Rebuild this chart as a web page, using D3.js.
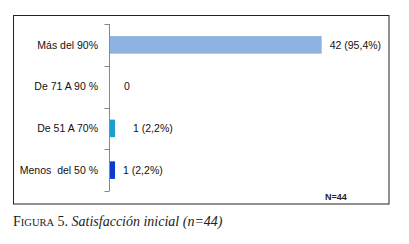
<!DOCTYPE html>
<html>
<head>
<meta charset="utf-8">
<script src="https://cdn.jsdelivr.net/npm/d3@7"></script>
<style>
  body { margin: 0; background: #fff; }
  .chart text { font-family: "Liberation Sans", Arial, sans-serif; white-space: pre; }
  .caption { font-family: "Liberation Serif", "Times New Roman", serif; }
</style>
</head>
<body>
<script>
// chart data
const categories = ["Más del 90%", "De 71 A 90 %", "De 51 A 70%", "Menos  del 50 %"];
const values = [42, 0, 1, 1];
const valueLabels = ["42 (95,4%)", "0", "1 (2,2%)", "1 (2,2%)"];
const barColors = ["#8db3e2", "#8db3e2", "#1a9fd0", "#0a3ad0"];
const labelOffsets = [8, 14, 18, 8];

const w = 409, h = 244;

const svg = d3.select("body").append("svg")
  .attr("width", w)
  .attr("height", h);

const chart = svg.append("g").attr("class", "chart");

// outer frame
chart.append("rect")
  .attr("x", 13.5).attr("y", 15.5)
  .attr("width", 375.5).attr("height", 188.5)
  .attr("fill", "none")
  .attr("stroke", "#222")
  .attr("stroke-width", 1);

const x = d3.scaleLinear().domain([0, 42]).range([110, 321.7]);
const y = d3.scaleBand().domain(categories).range([24, 191]).paddingInner(0.58).paddingOuter(0.29);

// bars
chart.selectAll("rect.bar")
  .data(values)
  .enter()
  .append("rect")
  .attr("class", "bar")
  .attr("x", x(0))
  .attr("y", (d, i) => y(categories[i]))
  .attr("width", d => x(d) - x(0))
  .attr("height", y.bandwidth())
  .attr("fill", (d, i) => barColors[i]);

// value labels
chart.selectAll("text.val")
  .data(values)
  .enter()
  .append("text")
  .attr("class", "val")
  .attr("x", (d, i) => x(d) + labelOffsets[i])
  .attr("y", (d, i) => y(categories[i]) + y.bandwidth() / 2)
  .attr("dy", "0.35em")
  .attr("font-size", 10.5)
  .attr("fill", "#111")
  .text((d, i) => valueLabels[i]);

// category axis
const yAxisScale = d3.scaleBand().domain(categories).range([24, 191]);
const axis = chart.append("g").attr("transform", "translate(109.5,0)");
axis.append("line")
  .attr("y1", 24).attr("y2", 191)
  .attr("stroke", "#888");
const tickPos = categories.map(c => yAxisScale(c)).concat([191]);
axis.selectAll("line.tick")
  .data(tickPos)
  .enter()
  .append("line")
  .attr("class", "tick")
  .attr("x1", -5).attr("x2", 0)
  .attr("y1", d => Math.round(d) + 0.5).attr("y2", d => Math.round(d) + 0.5)
  .attr("stroke", "#888");

chart.selectAll("text.cat")
  .data(categories)
  .enter()
  .append("text")
  .attr("class", "cat")
  .attr("x", 98)
  .attr("y", d => yAxisScale(d) + yAxisScale.bandwidth() / 2)
  .attr("dy", "0.35em")
  .attr("text-anchor", "end")
  .attr("font-size", 10.5)
  .attr("fill", "#111")
  .text(d => d);

// N label
chart.append("text")
  .attr("x", 325).attr("y", 200)
  .attr("font-size", 9)
  .attr("font-weight", "bold")
  .attr("fill", "#223")
  .text("N=44");

// caption
const cap = svg.append("text")
  .attr("class", "caption")
  .attr("x", 13).attr("y", 226)
  .attr("font-size", 14)
  .attr("fill", "#222");
cap.append("tspan").text("F");
cap.append("tspan").attr("font-size", 10.5).text("IGURA");
cap.append("tspan").text(" 5. ");
cap.append("tspan").attr("font-style", "italic").text("Satisfacción inicial (n=44)");
</script>
</body>
</html>
